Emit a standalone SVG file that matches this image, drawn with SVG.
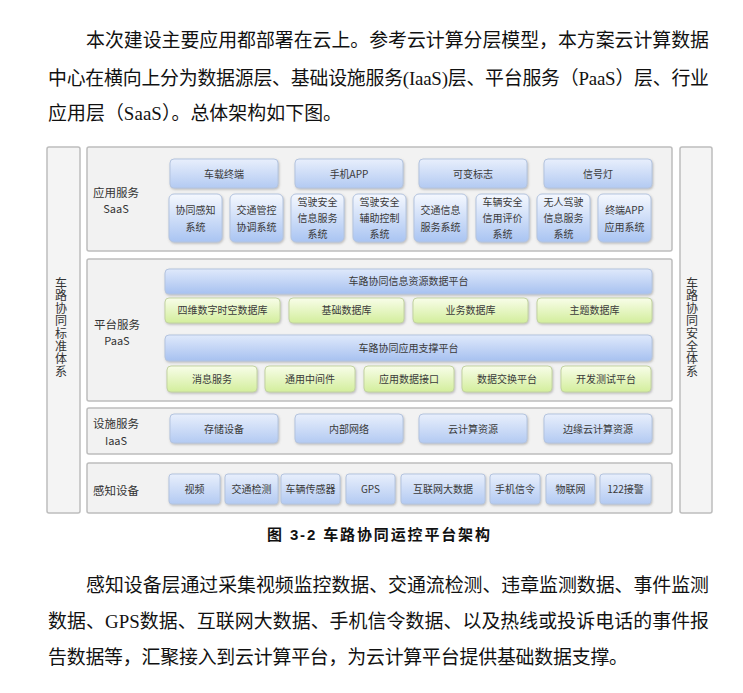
<svg xmlns="http://www.w3.org/2000/svg" width="743" height="693" viewBox="0 0 743 693">
<defs>
<linearGradient id="gBlue" x1="0" y1="0" x2="0" y2="1"><stop offset="0" stop-color="#e8effc"/><stop offset="1" stop-color="#b3caf2"/></linearGradient>
<linearGradient id="gBlue2" x1="0" y1="0" x2="0" y2="1"><stop offset="0" stop-color="#f5f8fe"/><stop offset="1" stop-color="#a9c4f2"/></linearGradient>
<linearGradient id="gBar" x1="0" y1="0" x2="0" y2="1"><stop offset="0" stop-color="#dfe9fb"/><stop offset="1" stop-color="#a7c1f0"/></linearGradient>
<linearGradient id="gGreen" x1="0" y1="0" x2="0" y2="1"><stop offset="0" stop-color="#f8fde9"/><stop offset="1" stop-color="#d3ee9c"/></linearGradient>
<filter id="sh" x="-10%" y="-10%" width="130%" height="140%"><feDropShadow dx="0.8" dy="1.2" stdDeviation="0.8" flood-color="#777" flood-opacity="0.45"/></filter>
</defs>
<style>
.para{font-family:"Liberation Serif","Noto Sans CJK SC",serif;font-size:18.9px;fill:#111}
.cap{font-family:"Liberation Sans","Noto Sans CJK SC",sans-serif;font-size:15px;font-weight:bold;fill:#111}
.panel{fill:#f2f2f2;stroke:#bdbdbd;stroke-width:1.5}
.side{fill:#f4f4f4;stroke:#bdbdbd;stroke-width:1.5}
.lbl{font-family:"Noto Sans CJK SC","DejaVu Sans",sans-serif;font-size:11.5px;fill:#333}
.lbl2{font-family:"Noto Sans CJK SC","DejaVu Sans",sans-serif;font-size:11px;fill:#333}
.vt{font-family:"Noto Sans CJK SC",sans-serif;font-size:12px;fill:#333;writing-mode:vertical-rl;letter-spacing:0.6px}
.bt{font-family:"Noto Sans CJK SC","DejaVu Sans",sans-serif;font-size:10px;fill:#3a3a3a;text-anchor:middle}
.b1{fill:url(#gBlue);stroke:#b4c4df;stroke-width:1;filter:url(#sh)}
.b2{fill:url(#gBlue2);stroke:#b4c4df;stroke-width:1;filter:url(#sh)}
.bar{fill:url(#gBar);stroke:#b4c4df;stroke-width:1;filter:url(#sh)}
.gr{fill:url(#gGreen);stroke:#c3d3a2;stroke-width:1;filter:url(#sh)}
</style>
<rect width="743" height="693" fill="#ffffff"/>

<g id="text-top">
<text class="para" x="86" y="46.5" textLength="623" lengthAdjust="spacing">本次建设主要应用都部署在云上。参考云计算分层模型，本方案云计算数据</text>
<text class="para" x="48" y="84.5" textLength="661" lengthAdjust="spacing">中心在横向上分为数据源层、基础设施服务(IaaS)层、平台服务（PaaS）层、行业</text>
<text class="para" x="48" y="120" textLength="294" lengthAdjust="spacing">应用层（SaaS）。总体架构如下图。</text>
</g>

<g id="side-left">
<rect class="side" x="47" y="147" width="33" height="366" rx="2"/>
<text class="vt" x="61" y="277">车路协同标准体系</text>
</g>
<g id="side-right">
<rect class="side" x="680" y="147" width="32" height="366" rx="2"/>
<text class="vt" x="692" y="277">车路协同安全体系</text>
</g>

<g id="layer-saas">
<rect class="panel" x="87" y="147" width="585" height="104" rx="2"/>
<text class="lbl" x="116" y="197" text-anchor="middle">应用服务</text>
<text class="lbl2" x="116" y="213.2" text-anchor="middle">SaaS</text>
<g id="saas-terminal"><rect class="b1" x="170" y="159" width="108" height="29" rx="4"/><text class="bt" x="224" y="177.5">车载终端</text></g>
<g id="saas-app"><rect class="b1" x="295" y="159" width="108" height="29" rx="4"/><text class="bt" x="349" y="177.5">手机APP</text></g>
<g id="saas-vms"><rect class="b1" x="419" y="159" width="108" height="29" rx="4"/><text class="bt" x="473" y="177.5">可变标志</text></g>
<g id="saas-signal"><rect class="b1" x="544" y="159" width="108" height="29" rx="4"/><text class="bt" x="598" y="177.5">信号灯</text></g>
<g id="saas-s1"><rect class="b2" x="169" y="194" width="53" height="48" rx="5"/><text class="bt"><tspan x="195.5" y="214">协同感知</tspan><tspan x="195.5" y="231">系统</tspan></text></g>
<g id="saas-s2"><rect class="b2" x="230" y="194" width="53" height="48" rx="5"/><text class="bt"><tspan x="256.5" y="214">交通管控</tspan><tspan x="256.5" y="231">协调系统</tspan></text></g>
<g id="saas-s3"><rect class="b2" x="291" y="194" width="53" height="48" rx="5"/><text class="bt"><tspan x="317.5" y="205.5">驾驶安全</tspan><tspan x="317.5" y="222">信息服务</tspan><tspan x="317.5" y="238">系统</tspan></text></g>
<g id="saas-s4"><rect class="b2" x="353" y="194" width="53" height="48" rx="5"/><text class="bt"><tspan x="379.5" y="205.5">驾驶安全</tspan><tspan x="379.5" y="222">辅助控制</tspan><tspan x="379.5" y="238">系统</tspan></text></g>
<g id="saas-s5"><rect class="b2" x="414" y="194" width="53" height="48" rx="5"/><text class="bt"><tspan x="440.5" y="214">交通信息</tspan><tspan x="440.5" y="231">服务系统</tspan></text></g>
<g id="saas-s6"><rect class="b2" x="476" y="194" width="53" height="48" rx="5"/><text class="bt"><tspan x="502.5" y="205.5">车辆安全</tspan><tspan x="502.5" y="222">信用评价</tspan><tspan x="502.5" y="238">系统</tspan></text></g>
<g id="saas-s7"><rect class="b2" x="537" y="194" width="53" height="48" rx="5"/><text class="bt"><tspan x="563.5" y="205.5">无人驾驶</tspan><tspan x="563.5" y="222">信息服务</tspan><tspan x="563.5" y="238">系统</tspan></text></g>
<g id="saas-s8"><rect class="b2" x="598" y="194" width="53" height="48" rx="5"/><text class="bt"><tspan x="624.5" y="214">终端APP</tspan><tspan x="624.5" y="231">应用系统</tspan></text></g>
</g>

<g id="layer-paas">
<rect class="panel" x="87" y="259" width="585" height="142" rx="2"/>
<text class="lbl" x="117" y="328.5" text-anchor="middle">平台服务</text>
<text class="lbl2" x="117" y="344.7" text-anchor="middle">PaaS</text>
<g id="paas-data-platform"><rect class="bar" x="165" y="269" width="487" height="25" rx="4"/><text class="bt" x="408.5" y="285">车路协同信息资源数据平台</text></g>
<g id="paas-db1"><rect class="gr" x="165" y="298" width="115" height="25" rx="4"/><text class="bt" x="222.5" y="314">四维数字时空数据库</text></g>
<g id="paas-db2"><rect class="gr" x="289" y="298" width="115" height="25" rx="4"/><text class="bt" x="346.5" y="314">基础数据库</text></g>
<g id="paas-db3"><rect class="gr" x="413" y="298" width="115" height="25" rx="4"/><text class="bt" x="470.5" y="314">业务数据库</text></g>
<g id="paas-db4"><rect class="gr" x="537" y="298" width="115" height="25" rx="4"/><text class="bt" x="594.5" y="314">主题数据库</text></g>
<g id="paas-support-platform"><rect class="bar" x="165" y="335" width="487" height="26" rx="4"/><text class="bt" x="408.5" y="351.5">车路协同应用支撑平台</text></g>
<g id="paas-m1"><rect class="gr" x="167" y="366" width="90" height="26" rx="4"/><text class="bt" x="212" y="382.5">消息服务</text></g>
<g id="paas-m2"><rect class="gr" x="265" y="366" width="90" height="26" rx="4"/><text class="bt" x="310" y="382.5">通用中间件</text></g>
<g id="paas-m3"><rect class="gr" x="364" y="366" width="90" height="26" rx="4"/><text class="bt" x="409" y="382.5">应用数据接口</text></g>
<g id="paas-m4"><rect class="gr" x="462" y="366" width="90" height="26" rx="4"/><text class="bt" x="507" y="382.5">数据交换平台</text></g>
<g id="paas-m5"><rect class="gr" x="561" y="366" width="90" height="26" rx="4"/><text class="bt" x="606" y="382.5">开发测试平台</text></g>
</g>

<g id="layer-iaas">
<rect class="panel" x="87" y="408" width="585" height="46" rx="2"/>
<text class="lbl" x="116" y="428.3" text-anchor="middle">设施服务</text>
<text class="lbl2" x="116" y="444.5" text-anchor="middle">IaaS</text>
<g id="iaas-storage"><rect class="b1" x="170" y="414" width="108" height="29" rx="4"/><text class="bt" x="224" y="432.5">存储设备</text></g>
<g id="iaas-network"><rect class="b1" x="295" y="414" width="108" height="29" rx="4"/><text class="bt" x="349" y="432.5">内部网络</text></g>
<g id="iaas-cloud"><rect class="b1" x="419" y="414" width="108" height="29" rx="4"/><text class="bt" x="473" y="432.5">云计算资源</text></g>
<g id="iaas-edge"><rect class="b1" x="544" y="414" width="108" height="29" rx="4"/><text class="bt" x="598" y="432.5">边缘云计算资源</text></g>
</g>

<g id="layer-sensing">
<rect class="panel" x="87" y="463" width="585" height="50" rx="2"/>
<text class="lbl" x="93" y="494.5">感知设备</text>
<g id="sense-video"><rect class="b1" x="169" y="474" width="51" height="30" rx="3"/><text class="bt" x="194.5" y="493">视频</text></g>
<g id="sense-traffic"><rect class="b1" x="225" y="474" width="53" height="30" rx="3"/><text class="bt" x="251.5" y="493">交通检测</text></g>
<g id="sense-vehicle"><rect class="b1" x="281" y="474" width="59" height="30" rx="3"/><text class="bt" x="310.5" y="493">车辆传感器</text></g>
<g id="sense-gps"><rect class="b1" x="346" y="474" width="49" height="30" rx="3"/><text class="bt" x="370.5" y="493">GPS</text></g>
<g id="sense-internet"><rect class="b1" x="401" y="474" width="84" height="30" rx="3"/><text class="bt" x="443" y="493">互联网大数据</text></g>
<g id="sense-phone"><rect class="b1" x="490" y="474" width="50" height="30" rx="3"/><text class="bt" x="515" y="493">手机信令</text></g>
<g id="sense-iot"><rect class="b1" x="546" y="474" width="49" height="30" rx="3"/><text class="bt" x="570.5" y="493">物联网</text></g>
<g id="sense-122"><rect class="b1" x="600" y="474" width="51" height="30" rx="3"/><text class="bt" x="625.5" y="493">122接警</text></g>
</g>

<g id="connectors"></g>

<g id="caption">
<text class="cap" x="267" y="540" textLength="223" lengthAdjust="spacing">图 3-2 车路协同运控平台架构</text>
</g>

<g id="text-bottom">
<text class="para" x="86" y="591.5" textLength="623" lengthAdjust="spacing">感知设备层通过采集视频监控数据、交通流检测、违章监测数据、事件监测</text>
<text class="para" x="48" y="627.5" textLength="661" lengthAdjust="spacing">数据、GPS数据、互联网大数据、手机信令数据、以及热线或投诉电话的事件报</text>
<text class="para" x="48" y="664" textLength="580" lengthAdjust="spacing">告数据等，汇聚接入到云计算平台，为云计算平台提供基础数据支撑。</text>
</g>
</svg>
